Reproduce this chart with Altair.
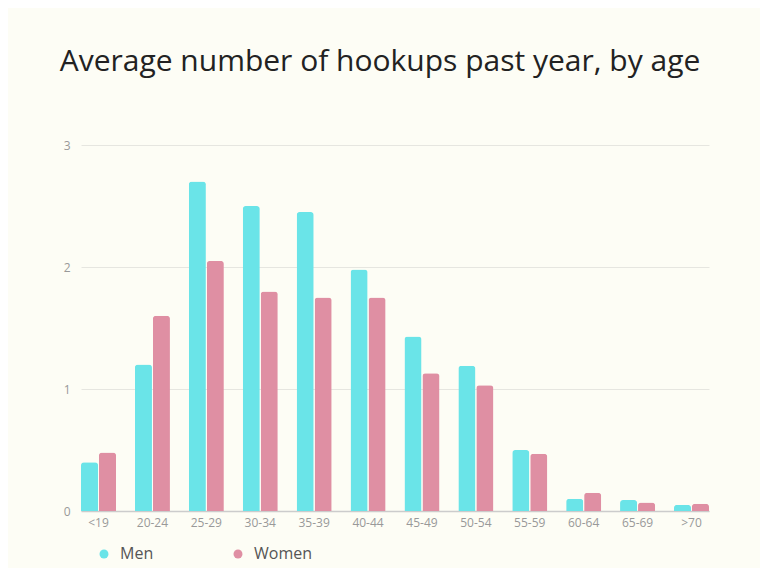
import altair as alt
import pandas as pd

ages = ["<19", "20-24", "25-29", "30-34", "35-39", "40-44", "45-49", "50-54",
        "55-59", "60-64", "65-69", ">70"]
men = [0.40, 1.20, 2.70, 2.50, 2.45, 1.98, 1.43, 1.19, 0.50, 0.10, 0.09, 0.05]
women = [0.48, 1.60, 2.05, 1.80, 1.75, 1.75, 1.13, 1.03, 0.47, 0.15, 0.07, 0.06]
groups = ["Men", "Women"]
colors = ["#6ae4e8", "#df8fa3"]

rows = []
for a, m, w in zip(ages, men, women):
    rows.append({"age": a, "group": "Men", "value": m})
    rows.append({"age": a, "group": "Women", "value": w})
df = pd.DataFrame(rows)

FONT = "Open Sans"

chart = alt.Chart(df).mark_bar(
    cornerRadiusTopLeft=3, cornerRadiusTopRight=3
).encode(
    x=alt.X("age:N", sort=ages, title=None,
            scale=alt.Scale(paddingInner=0.35, paddingOuter=0),
            axis=alt.Axis(labelAngle=0, labelColor="#999999", labelFontSize=12,
                          labelFont=FONT, ticks=False, domainColor="#cccccc",
                          domainWidth=1.5, labelPadding=6, grid=False)),
    xOffset=alt.XOffset("group:N", sort=groups,
                        scale=alt.Scale(paddingInner=0.05, paddingOuter=0)),
    y=alt.Y("value:Q", title=None,
            scale=alt.Scale(domain=[0, 3]),
            axis=alt.Axis(values=[0, 1, 2, 3], format="d", labelColor="#999999",
                          labelFontSize=12, labelFont=FONT, ticks=False,
                          domain=False, gridColor="#e6e6e0", gridWidth=1,
                          labelPadding=11)),
    color=alt.Color("group:N", sort=groups,
                    scale=alt.Scale(domain=groups, range=colors),
                    legend=alt.Legend(title=None, orient="none", direction="horizontal",
                                      legendX=15, legendY=401,
                                      symbolType="circle", symbolSize=80,
                                      symbolStrokeWidth=0,
                                      labelFont=FONT, labelFontSize=16,
                                      labelColor="#555555", labelOffset=8,
                                      columnPadding=76)),
).properties(
    width=628,
    height=366,
    padding={"left": 73, "top": 137, "right": 51, "bottom": 57},
    autosize=alt.AutoSizeParams(type="none"),
    background="#fdfdf5",
    title=alt.Title("Average number of hookups past year, by age",
                    font=FONT, fontSize=30, fontWeight="normal", color="#222222",
                    anchor="middle", dx=-15, offset=32, baseline="bottom"),
).configure_view(stroke=None)

chart.save("out.html", embed_options={"renderer": "svg", "actions": False})
